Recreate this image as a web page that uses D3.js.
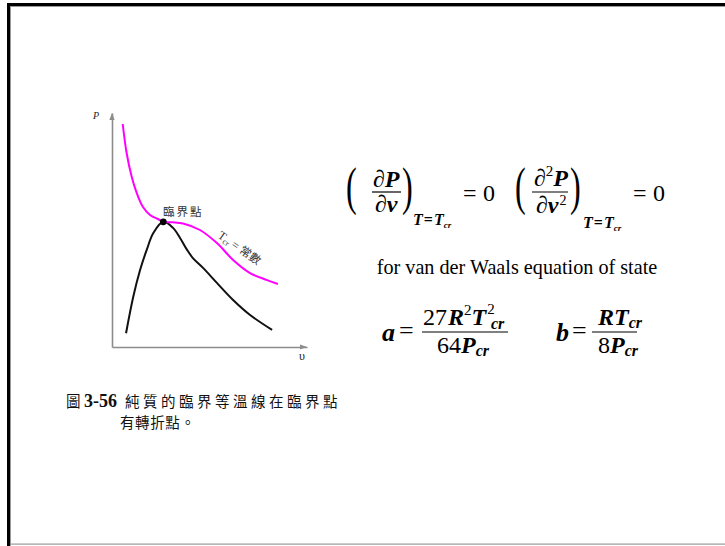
<!DOCTYPE html>
<html>
<head>
<meta charset="utf-8">
<script src="https://cdn.jsdelivr.net/npm/d3@7"></script>
<style>
  html, body { margin: 0; padding: 0; background: #fff; }
  svg { display: block; }
</style>
</head>
<body>
<script>
// Critical isotherm (T = Tcr) of a pure substance, P against specific volume
const isoV = [0.55, 0.75, 1.01, 1.27, 1.59, 1.95, 2.36, 2.63, 3.10, 3.64, 4.51, 5.38, 6.21, 7.08, 7.95, 8.51];
const isoP = [9.53, 8.29, 7.28, 6.58, 5.98, 5.64, 5.47, 5.35, 5.33, 5.28, 5.00, 4.44, 3.72, 3.16, 2.86, 2.69];
// Saturation dome
const domeV = [0.72, 1.09, 1.44, 1.78, 2.12, 2.63, 3.13, 3.49, 3.85, 4.15, 4.67, 5.38, 6.21, 7.08, 8.21];
const domeP = [0.59, 2.15, 3.29, 4.15, 4.87, 5.35, 5.09, 4.66, 4.15, 3.80, 3.38, 2.74, 2.01, 1.37, 0.73];
// Critical point
const critV = 2.63, critP = 5.35;

const axisLabels = { y: "P", x: "υ" };
const critLabel = "臨界點";
const captionFig = ["圖", "3-56"];
const captionLines = ["純質的臨界等溫線在臨界點", "有轉折點。"];
const stateText = "for van der Waals equation of state";

const W = 725, H = 546;
const serif = "'Liberation Serif', 'Times New Roman', Times, serif";
const cjk = "'Noto Sans CJK TC', 'Noto Sans CJK SC', sans-serif";
const svg = d3.select("body").append("svg").attr("width", W).attr("height", H);

// Slide frame
svg.append("rect").attr("x", 0).attr("y", 0).attr("width", W).attr("height", H).attr("fill", "#fff");
svg.append("rect").attr("x", 7).attr("y", 3).attr("width", W - 7).attr("height", 3).attr("fill", "#000");
svg.append("rect").attr("x", 7).attr("y", 3).attr("width", 3).attr("height", H - 3).attr("fill", "#000");
svg.append("rect").attr("x", 10).attr("y", 6).attr("width", W - 10).attr("height", 1).attr("fill", "#999");
svg.append("rect").attr("x", 10).attr("y", 6).attr("width", 1).attr("height", H - 6).attr("fill", "#999");
svg.append("rect").attr("x", 10).attr("y", 543.5).attr("width", W - 10).attr("height", 1.2).attr("fill", "#9a9a9a");

// Scales
const x = d3.scaleLinear().domain([0, 10]).range([112, 307]);
const y = d3.scaleLinear().domain([0, 10]).range([347, 113]);

const axisColor = "#8c8c8c";
const gx = svg.append("g").attr("transform", `translate(0,${y(0)})`)
  .call(d3.axisBottom(x).ticks(0).tickSizeOuter(0));
const gy = svg.append("g").attr("transform", `translate(${x(0)},0)`)
  .call(d3.axisLeft(y).ticks(0).tickSizeOuter(0));
[gx, gy].forEach(g => g.select(".domain").attr("stroke", axisColor).attr("stroke-width", 1.6));

// Arrow heads
const xe = x.range()[1], ye = y.range()[1];
svg.append("path").attr("d", `M${xe},${y(0)} l-7,-2.6 l0,5.2 z`).attr("fill", axisColor);
svg.append("path").attr("d", `M${x(0)},${ye} l-2.6,7 l5.2,0 z`).attr("fill", axisColor);

svg.append("text").attr("x", x(0) - 19).attr("y", ye + 6)
  .attr("font-family", serif).attr("font-style", "italic")
  .attr("font-size", 10).attr("fill", "#222").text(axisLabels.y);
svg.append("text").attr("x", xe - 8).attr("y", y(0) + 13)
  .attr("font-family", serif)
  .attr("font-size", 12).attr("fill", "#222").text(axisLabels.x);

// Curves
const line = d3.line().x(d => x(d[0])).y(d => y(d[1])).curve(d3.curveCatmullRom.alpha(0.5));
svg.append("path").datum(domeV.map((v, i) => [v, domeP[i]]))
  .attr("d", line).attr("fill", "none").attr("stroke", "#111").attr("stroke-width", 2);
svg.append("path").datum(isoV.map((v, i) => [v, isoP[i]]))
  .attr("d", line).attr("fill", "none").attr("stroke", "#ff00ff").attr("stroke-width", 2);
svg.append("circle").attr("cx", x(critV)).attr("cy", y(critP)).attr("r", 3.4).attr("fill", "#000");

svg.append("text").attr("x", x(critV) + 20).attr("y", y(critP) - 6)
  .attr("text-anchor", "middle").attr("font-family", cjk)
  .attr("font-size", 11.5).attr("letter-spacing", 2).attr("fill", "#333").text(critLabel);

// Isotherm label, rotated along the curve
const iso = svg.append("text").attr("transform", "translate(217,237) rotate(35)")
  .attr("font-family", serif).attr("font-size", 12).attr("fill", "#333");
iso.append("tspan").text("T");
iso.append("tspan").attr("font-size", 8).attr("dy", 2).text("cr");
iso.append("tspan").attr("dy", -2).text(" = ");
iso.append("tspan").attr("font-family", cjk).attr("font-size", 11.5).text("常數");

// Caption
svg.append("text").attr("x", 66).attr("y", 407).attr("font-family", cjk)
  .attr("font-size", 14.5).attr("fill", "#111").text(captionFig[0]);
svg.append("text").attr("x", 84).attr("y", 407).attr("font-family", serif).attr("font-weight", "bold")
  .attr("font-size", 18).attr("fill", "#111").text(captionFig[1]);
svg.append("text").attr("x", 125).attr("y", 407).attr("font-family", cjk)
  .attr("font-size", 14.5).attr("letter-spacing", 3.5).attr("fill", "#111").text(captionLines[0]);
svg.append("text").attr("x", 120).attr("y", 428).attr("font-family", cjk)
  .attr("font-size", 14.5).attr("letter-spacing", 0.6).attr("fill", "#111").text(captionLines[1]);

// Equations
function mtext(xp, yp, runs, fs) {
  const t = svg.append("text").attr("x", xp).attr("y", yp).attr("font-family", serif)
    .attr("font-size", fs).attr("fill", "#000");
  runs.forEach(r => {
    const s = t.append("tspan").text(r.t);
    if (r.b) s.attr("font-weight", "bold");
    if (r.i) s.attr("font-style", "italic");
    if (r.fs) s.attr("font-size", r.fs);
    if (r.dy) s.attr("dy", r.dy);
    if (r.dx) s.attr("dx", r.dx);
  });
  return t;
}
// Tall delimiters: a large glyph squeezed horizontally so its stroke stays thin
function paren(xp, yp, ch) {
  svg.append("text").attr("x", xp).attr("y", yp).attr("font-family", serif)
    .attr("font-size", 52).attr("transform", `translate(${xp},0) scale(0.62,1) translate(${-xp},0)`)
    .text(ch);
}
function bar(x1, x2, yp) {
  svg.append("line").attr("x1", x1).attr("x2", x2).attr("y1", yp).attr("y2", yp)
    .attr("stroke", "#000").attr("stroke-width", 1.2);
}
const BI = { b: true, i: true };

// (∂P/∂v)_{T=Tcr} = 0
paren(346, 204, "(");
mtext(373, 187, [{ t: "∂" }, { t: "P", ...BI }], 24);
bar(372, 401, 192);
mtext(375, 212, [{ t: "∂" }, { t: "v", ...BI }], 24);
paren(402, 204, ")");
mtext(413, 225, [{ t: "T", ...BI }, { t: "=", b: true, dx: 1 }, { t: "T", ...BI, dx: 1 }, { t: "cr", ...BI, fs: 9, dy: 3 }], 16);
mtext(463, 201, [{ t: "=" }], 24);
mtext(483, 201, [{ t: "0" }], 24);

// (∂²P/∂v²)_{T=Tcr} = 0
paren(515, 204, "(");
mtext(534, 186, [{ t: "∂" }, { t: "2", fs: 15, dy: -10 }, { t: "P", ...BI, dy: 10 }], 24);
bar(532, 568, 192);
mtext(536, 213, [{ t: "∂" }, { t: "v", ...BI }, { t: "2", fs: 14, dx: 1, dy: -8 }], 24);
paren(570, 204, ")");
mtext(583, 228, [{ t: "T", ...BI }, { t: "=", b: true, dx: 1 }, { t: "T", ...BI, dx: 1 }, { t: "cr", ...BI, fs: 9, dy: 3 }], 16);
mtext(633, 201, [{ t: "=" }], 24);
mtext(653, 201, [{ t: "0" }], 24);

svg.append("text").attr("x", 517).attr("y", 274).attr("text-anchor", "middle")
  .attr("font-family", serif).attr("font-size", 20.2).text(stateText);

// a = 27R²Tcr² / 64Pcr
mtext(382, 341, [{ t: "a", ...BI }], 26);
mtext(399, 339, [{ t: "=" }], 26);
mtext(423, 325, [{ t: "27" }, { t: "R", ...BI, dx: 1 }, { t: "2", fs: 15, dy: -10 }, { t: "T", ...BI, dy: 10 },
  { t: "2", fs: 15, dx: 1, dy: -11 }], 24);
mtext(491, 329, [{ t: "cr", ...BI, fs: 16 }], 16);
bar(422, 508, 332);
mtext(437, 353, [{ t: "64" }, { t: "P", ...BI }, { t: "cr", ...BI, fs: 16, dy: 3 }], 24);

// b = RTcr / 8Pcr
mtext(556, 341, [{ t: "b", ...BI }], 26);
mtext(572, 339, [{ t: "=" }], 26);
mtext(598, 325, [{ t: "R", ...BI }, { t: "T", ...BI }, { t: "cr", ...BI, fs: 16, dy: 3 }], 24);
bar(592, 637, 332);
mtext(598, 353, [{ t: "8" }, { t: "P", ...BI }, { t: "cr", ...BI, fs: 16, dy: 3 }], 24);
</script>
</body>
</html>
